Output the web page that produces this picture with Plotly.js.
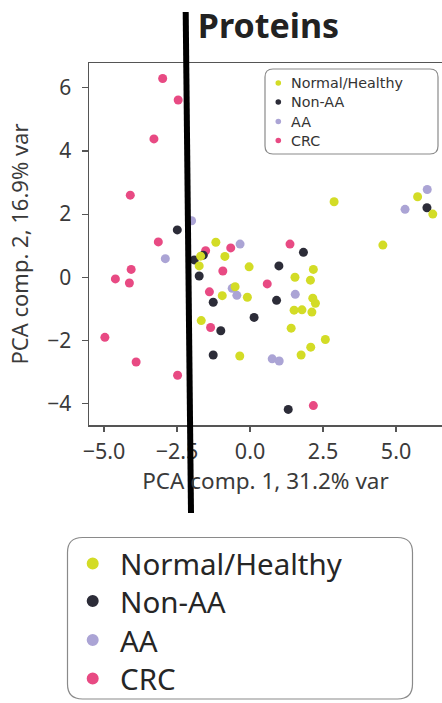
<!DOCTYPE html>
<html>
<head>
<meta charset="utf-8">
<script src="https://cdn.plot.ly/plotly-3.0.1.min.js"></script>
<style>html,body{margin:0;padding:0;background:#fff;}#chart{width:442px;height:703px;}</style>
</head>
<body>
<div id="chart"></div>
<script>
// ---- data ----
const groupNames = ["Normal/Healthy", "Non-AA", "AA", "CRC"];

const normalX = [-1.17, -1.69, -0.86, -1.74, -0.03, -0.51, -0.95, -0.09, -1.67, -0.35, 2.17, 1.54, 2.07, 2.15, 2.24, 1.51, 1.78, 2.12, 1.41, 2.58, 2.08, 1.75, 4.55, 2.88, 5.74, 6.26];
const normalY = [1.11, 0.67, 0.66, 0.36, 0.33, -0.30, -0.58, -0.63, -1.37, -2.49, 0.25, 0.00, -0.09, -0.66, -0.82, -1.04, -1.03, -1.10, -1.61, -1.97, -2.21, -2.46, 1.02, 2.39, 2.55, 2.00];

const nonAAX = [-2.49, -1.91, -1.60, -1.74, -1.26, 0.14, -1.00, -1.26, 0.99, 1.83, 0.91, 1.31, 6.06];
const nonAAY = [1.50, 0.55, 0.70, 0.04, -0.79, -1.27, -1.69, -2.46, 0.36, 0.79, -0.73, -4.18, 2.20];

const aaX = [-2.00, -2.90, -0.34, -0.61, -0.45, 1.55, 0.76, 1.00, 6.07, 5.31];
const aaY = [1.79, 0.59, 1.05, -0.35, -0.57, -0.54, -2.58, -2.65, 2.78, 2.15];

const crcX = [-2.99, -2.46, -3.29, -4.10, -3.14, -4.07, -4.61, -4.13, -4.97, -3.90, -2.48, -1.52, -0.66, -0.93, -1.39, -1.35, 1.37, 0.59, 2.17];
const crcY = [6.29, 5.61, 4.38, 2.60, 1.12, 0.25, -0.05, -0.18, -1.90, -2.68, -3.10, 0.84, 0.93, 0.20, -0.46, -1.59, 1.05, -0.21, -4.06];

const xTickVals = [-5, -2.5, 0, 2.5, 5];
const xTickText = ["\u22125.0", "\u22122.5", "0.0", "2.5", "5.0"];
const yTickVals = [-4, -2, 0, 2, 4, 6];
const yTickText = ["\u22124", "\u22122", "0", "2", "4", "6"];

const titleText = "Proteins";
const xTitle = "PCA comp. 1, 31.2% var";
const yTitle = "PCA comp. 2, 16.9% var";

// ---- styling ----
const colors = ["#d3dc26", "#2c2c38", "#aba4d5", "#e84a83"];
const FONT = "Noto Sans, Lato, sans-serif";
const LEGFONT = "DejaVu Sans, sans-serif";
const TXT = "#333333";

const W = 442, H = 703;
const L = 89, R = 0, T = 63, B = 278;
const PW = W - L - R, PH = H - T - B;
const px = v => (v - L) / PW;          // pixel x -> paper
const py = v => (H - B - v) / PH;      // pixel y -> paper

function roundRect(x0, y0, x1, y1, r) {
  const p = (x, y) => px(x).toFixed(5) + "," + py(y).toFixed(5);
  return "M" + p(x0 + r, y0) + " L" + p(x1 - r, y0) + " Q" + p(x1, y0) + " " + p(x1, y0 + r) +
    " L" + p(x1, y1 - r) + " Q" + p(x1, y1) + " " + p(x1 - r, y1) +
    " L" + p(x0 + r, y1) + " Q" + p(x0, y1) + " " + p(x0, y1 - r) +
    " L" + p(x0, y0 + r) + " Q" + p(x0, y0) + " " + p(x0 + r, y0) + " Z";
}

const series = [
  {x: normalX, y: normalY},
  {x: nonAAX, y: nonAAY},
  {x: aaX, y: aaY},
  {x: crcX, y: crcY}
];
const drawOrder = [3, 2, 1, 0];
const traces = drawOrder.map(i => ({
  type: "scatter", mode: "markers", name: groupNames[i],
  x: series[i].x, y: series[i].y,
  marker: {color: colors[i], size: 9, line: {width: 0}},
  showlegend: false, hoverinfo: "x+y+name"
}));

const shapes = [];
const annotations = [];

// inner legend
shapes.push({type: "path", xref: "paper", yref: "paper", path: roundRect(265, 69, 438, 154, 8),
  line: {color: "#8a8a8a", width: 1.2}, fillcolor: "rgba(255,255,255,0)", layer: "above"});
const innerRows = [83, 102, 121.5, 140.5];
groupNames.forEach((n, i) => {
  const cy = innerRows[i], cx = 278.3, r = 2.8;
  shapes.push({type: "circle", xref: "paper", yref: "paper", x0: px(cx - r), x1: px(cx + r), y0: py(cy + r), y1: py(cy - r),
    fillcolor: colors[i], line: {width: 0}, layer: "above"});
  annotations.push({xref: "paper", yref: "paper", x: px(291), y: py(cy), xanchor: "left", yanchor: "middle",
    text: n, showarrow: false, borderpad: 0, borderwidth: 0,
    font: {family: LEGFONT, size: 14.3, color: TXT}});
});

// outer legend
shapes.push({type: "path", xref: "paper", yref: "paper", path: roundRect(67.5, 537.5, 412.5, 699, 15),
  line: {color: "#8a8a8a", width: 1.2}, fillcolor: "rgba(255,255,255,0)", layer: "above"});
const outerRows = [563.5, 601, 640, 678.5];
groupNames.forEach((n, i) => {
  const cy = outerRows[i], cx = 92.7, r = 6;
  shapes.push({type: "circle", xref: "paper", yref: "paper", x0: px(cx - r), x1: px(cx + r), y0: py(cy + r), y1: py(cy - r),
    fillcolor: colors[i], line: {width: 0}, layer: "above"});
  annotations.push({xref: "paper", yref: "paper", x: px(120), y: py(cy), xanchor: "left", yanchor: "middle",
    text: n, showarrow: false, borderpad: 0, borderwidth: 0,
    font: {family: FONT, size: 29.5, color: "#262626"}});
});

// black vertical marker line across the figure
shapes.push({type: "line", xref: "paper", yref: "paper", x0: px(185.7), y0: py(12), x1: px(191), y1: py(513),
  line: {color: "#000000", width: 6}, layer: "above"});

const layout = {
  width: W, height: H,
  margin: {l: L, r: R, t: T, b: B, pad: 0},
  paper_bgcolor: "#ffffff", plot_bgcolor: "#ffffff",
  showlegend: false,
  title: {text: "<b>" + titleText + "</b>", font: {family: FONT, size: 34, color: "#222222"},
    x: 268.5 / W, xanchor: "center", xref: "container", y: 1 - 26 / H, yanchor: "middle", yref: "container"},
  font: {family: FONT, color: TXT},
  xaxis: {
    range: [(L - 250) / 29.2, (W - R - 250) / 29.2],
    tickvals: xTickVals, ticktext: xTickText,
    showgrid: false, zeroline: false,
    showline: true, mirror: true, linecolor: "#555555", linewidth: 1.5,
    ticks: "outside", ticklen: 5, tickcolor: "#555555", tickwidth: 1.2,
    ticklabelstandoff: 2,
    tickfont: {family: FONT, size: 21.5, color: "#3a3a3a"},
    title: {text: xTitle, font: {family: FONT, size: 22.5, color: "#3a3a3a"}, standoff: 6}
  },
  yaxis: {
    range: [(277.3 - (H - B)) / 31.6, (277.3 - T) / 31.6],
    tickvals: yTickVals, ticktext: yTickText,
    showgrid: false, zeroline: false,
    showline: true, mirror: false, linecolor: "#555555", linewidth: 1.5,
    ticks: "outside", ticklen: 6, tickcolor: "#555555", tickwidth: 1.2,
    ticklabelstandoff: 6,
    tickfont: {family: FONT, size: 21, color: "#3a3a3a"},
    title: {text: yTitle, font: {family: FONT, size: 22, color: "#3a3a3a"}, standoff: 12}
  },
  shapes: shapes,
  annotations: annotations
};

Plotly.newPlot("chart", traces, layout, {displayModeBar: false, staticPlot: true});
</script>
</body>
</html>
